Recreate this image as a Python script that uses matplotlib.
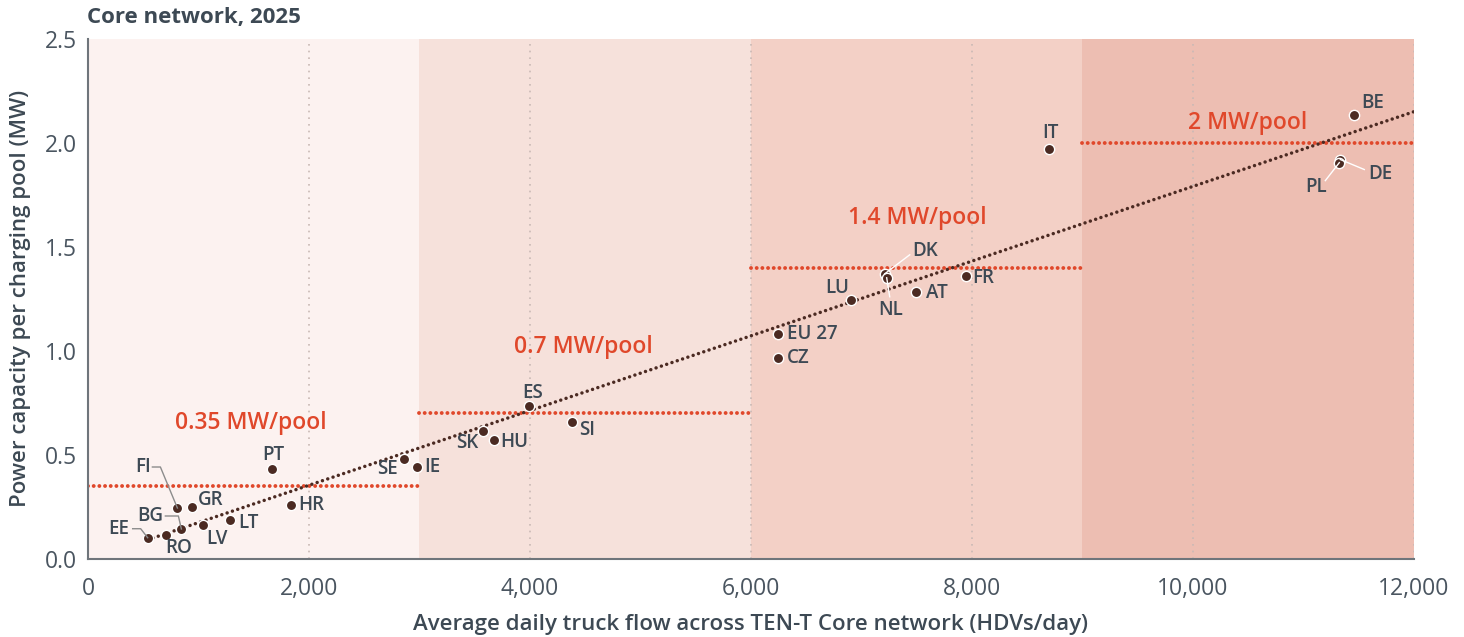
import numpy as np
import matplotlib
matplotlib.use("Agg")
import matplotlib.pyplot as plt
from matplotlib.transforms import IdentityTransform

plt.rcParams['font.family'] = ['Open Sans', 'DejaVu Sans']

# Member-state values: average daily truck flow vs. power per charging pool
countries = ["EE", "RO", "BG", "LV", "LT", "FI", "GR", "PT", "HR", "SE", "IE",
             "SK", "HU", "ES", "SI", "EU 27", "CZ", "LU", "DK", "NL", "AT",
             "FR", "IT", "BE", "DE", "PL"]
truck_flow = [540, 710, 845, 1044, 1288, 809, 945, 1668, 1840, 2862, 2979,
              3576, 3675, 3992, 4381, 6243, 6243, 6903, 7210, 7228, 7490,
              7943, 8693, 11460, 11333, 11324]
power_mw = [0.10, 0.113, 0.142, 0.161, 0.185, 0.243, 0.248, 0.431, 0.258,
            0.479, 0.441, 0.614, 0.571, 0.735, 0.658, 1.081, 0.966, 1.245,
            1.370, 1.351, 1.284, 1.361, 1.973, 2.136, 1.92, 1.905]

# Regulatory power requirement per traffic band
band_edges = [0, 3000, 6000, 9000, 12000]
band_power = [0.35, 0.7, 1.4, 2.0]
band_labels = ["0.35 MW/pool", "0.7 MW/pool", "1.4 MW/pool", "2 MW/pool"]
band_colors = ["#FCF2F0", "#F6E1DB", "#F3D0C6", "#EDBEB2"]

# label placement: (dx, dy) in pixels of label centre from its point
label_pos = {
    "EE": (-29, 9), "RO": (12, -13), "BG": (-31, 13),
    "LV": (14, -14), "LT": (18, -3), "FI": (-34, 41),
    "GR": (18, 7), "PT": (1, 14), "HR": (20, 0),
    "SE": (-17, -10), "IE": (15, 0), "SK": (-16, -12),
    "HU": (20, -2), "ES": (4, 13), "SI": (15, -8),
    "EU 27": (34, 0), "CZ": (20, 0), "LU": (-14, 12),
    "DK": (40, 23), "NL": (4, -32), "AT": (21, -1),
    "FR": (18, -2), "IT": (2, 16), "BE": (18, 12),
    "DE": (40, -14), "PL": (-23, -24),
}
# leader lines: pixel vertices relative to the point, and colour
leaders = {
    "EE": ([(-15, 9), (-7, 9), (0, 0)], "#8C8C8C"),
    "BG": ([(-16, 13), (-3, 13), (0, 0)], "#8C8C8C"),
    "FI": ([(-25, 41), (-17, 41), (0, 0)], "#8C8C8C"),
    "DK": ([(0, 0), (25, 19)], "white"),
    "NL": ([(0, 0), (3, -19)], "white"),
    "DE": ([(0, 0), (24, -10)], "white"),
    "PL": ([(0, 0), (-14, -18)], "white"),
}

text_col = "#3D4954"
red = "#E0482B"
dot_col = "#4B2A22"

fig = plt.figure(figsize=(14.64, 6.37), dpi=100)
ax = fig.add_axes([88 / 1464, 78.5 / 637, 1326 / 1464, 519.5 / 637])
ax.set_xlim(0, 12000)
ax.set_ylim(0, 2.5)

for i in range(4):
    ax.axvspan(band_edges[i], band_edges[i + 1], color=band_colors[i], lw=0, zorder=0)

for gx in range(2000, 12001, 2000):
    ax.axvline(gx, color="#C9B9B5", lw=1.2, ls=(0, (1, 3)), zorder=1)

label_xy = [(175, 423), (514, 347), (848, 218), (1188, 123)]
for i in range(4):
    ax.plot([band_edges[i], band_edges[i + 1]], [band_power[i]] * 2, color=red,
            lw=2.8, ls=(0, (0.01, 1.45)), dash_capstyle="round", zorder=2)
    px, py = label_xy[i]
    fig.text(px / 1464, 1 - py / 637, band_labels[i], color=red, fontsize=16.5,
             fontweight="semibold", ha="left", va="center")

# linear trend across the member states
x = np.array(truck_flow, dtype=float)
y = np.array(power_mw, dtype=float)
slope, intercept = np.polyfit(x, y, 1)
tx = np.array([x.min(), 12000])
ax.plot(tx, slope * tx + intercept, color=dot_col, lw=2.5, ls=(0, (0.01, 1.6)),
        dash_capstyle="round", zorder=3)

ax.scatter(x, y, s=55, color=dot_col, edgecolor="white", linewidth=1.0, zorder=5)

for c, xv, yv in zip(countries, truck_flow, power_mw):
    dx, dy = label_pos[c]
    if c in leaders:
        verts, lc = leaders[c]
        px0, py0 = ax.transData.transform((xv, yv))
        lx = [px0 + v[0] for v in verts]
        ly = [py0 + v[1] for v in verts]
        fig.add_artist(plt.Line2D(lx, ly, color=lc, lw=1.0,
                                  transform=IdentityTransform(), zorder=4))
    ax.annotate(c, xy=(xv, yv), xytext=(dx, dy), textcoords="offset pixels",
                ha="center", va="center", fontsize=13.5, fontweight="semibold",
                color=text_col, zorder=6)

for s in ["top", "right"]:
    ax.spines[s].set_visible(False)
for s in ["left", "bottom"]:
    ax.spines[s].set_color("#6F757B")
    ax.spines[s].set_linewidth(1.5)

ax.set_xticks(range(0, 12001, 2000))
ax.set_xticklabels([f"{v:,}" for v in range(0, 12001, 2000)])
ax.set_yticks(np.arange(0, 2.51, 0.5))
ax.set_yticklabels([f"{v:.1f}" for v in np.arange(0, 2.51, 0.5)])
ax.tick_params(length=0, labelsize=16.5, colors="#4A5560", pad=8)
ax.tick_params(axis="x", pad=13)

ax.set_xlabel("Average daily truck flow across TEN-T Core network (HDVs/day)",
              fontsize=16, fontweight="semibold", color=text_col, labelpad=10)
ax.set_ylabel("Power capacity per charging pool (MW)", fontsize=16,
              fontweight="semibold", color=text_col, labelpad=10)

fig.text(87 / 1464, 1 - 18 / 637, "Core network, 2025", fontsize=16,
         fontweight="bold", color=text_col, ha="left", va="center")

fig.savefig("out.png", dpi=100)
